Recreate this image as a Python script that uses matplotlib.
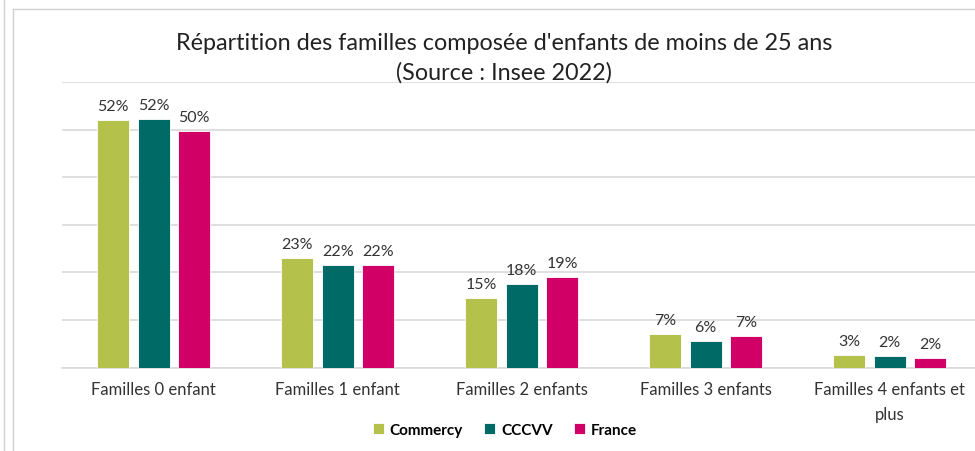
import numpy as np
import matplotlib
matplotlib.use('Agg')
import matplotlib.pyplot as plt
from matplotlib.lines import Line2D

categories = ['Familles 0 enfant', 'Familles 1 enfant', 'Familles 2 enfants',
              'Familles 3 enfants', 'Familles 4 enfants et\nplus']
series = ['Commercy', 'CCCVV', 'France']
commercy = [52.0, 23.1, 14.6, 7.0, 2.6]
cccvv = [52.3, 21.6, 17.6, 5.6, 2.4]
france = [49.8, 21.6, 19.1, 6.6, 2.1]
colors = ['#B4C14B', '#006A66', '#D10066']

plt.rcParams['font.family'] = ['Lato', 'DejaVu Sans']

W, H = 975, 452
fig = plt.figure(figsize=(W / 100, H / 100), dpi=100)

# plot area in pixels: left 61.7, baseline 368.5, 60% line at 83
step = 184.0
left_px = 61.7
ax = fig.add_axes([left_px / W, 1 - 368.5 / H, 1 - left_px / W, (368.5 - 83) / H])
ax.set_xlim(-0.5, (W - left_px) / step - 0.5)
ax.set_ylim(0, 60)

x = np.arange(len(categories))
width = 32 / step
offset = 40.5 / step
for i, (name, vals) in enumerate(zip(series, [commercy, cccvv, france])):
    pos = x + (i - 1) * offset
    bars = ax.bar(pos, vals, width, color=colors[i], label=name,
                  edgecolor='white', linewidth=0.6, zorder=3)
    for b, v in zip(bars, vals):
        ax.annotate(f'{v:.0f}%', (b.get_x() + b.get_width() / 2, v),
                    xytext=(0, 5), textcoords='offset points',
                    ha='center', va='bottom', fontsize=11.5, color='#333333')

ax.set_yticks(np.arange(0, 61, 10))
ax.yaxis.grid(True, color='#D9D9D9', linewidth=1.2, zorder=0)
ax.tick_params(axis='y', left=False, labelleft=False)
ax.tick_params(axis='x', length=0, pad=10, labelsize=12, labelcolor='#333333')
ax.set_xticks(x)
ax.set_xticklabels(categories, linespacing=1.7)
for s in ['top', 'right', 'left']:
    ax.spines[s].set_visible(False)
ax.spines['bottom'].set_color('#D9D9D9')
ax.spines['bottom'].set_linewidth(1.2)

fig.text(504 / W, 1 - 43 / H, "Répartition des familles composée d'enfants de moins de 25 ans",
         ha='center', va='center', fontsize=16.8, color='#222222')
fig.text(504 / W, 1 - 73 / H, "(Source : Insee 2022)",
         ha='center', va='center', fontsize=16.8, color='#222222')

fig.legend(loc='center', bbox_to_anchor=(505 / W, 1 - 431 / H), ncol=3,
           frameon=False, handlelength=0.7, handleheight=0.7, handletextpad=0.4,
           columnspacing=1.4, prop={'weight': 'bold', 'size': 11})

# outer frame lines of the screenshot
fig.add_artist(Line2D([4 / W, 4 / W], [0, 1], color='#D0D0D0', linewidth=1))
fig.add_artist(Line2D([13 / W, 13 / W], [0, 1 - 10 / H], color='#D0D0D0', linewidth=1))
fig.add_artist(Line2D([13 / W, 1], [1 - 10 / H, 1 - 10 / H], color='#D0D0D0', linewidth=1))

fig.savefig('out.png', dpi=100)
